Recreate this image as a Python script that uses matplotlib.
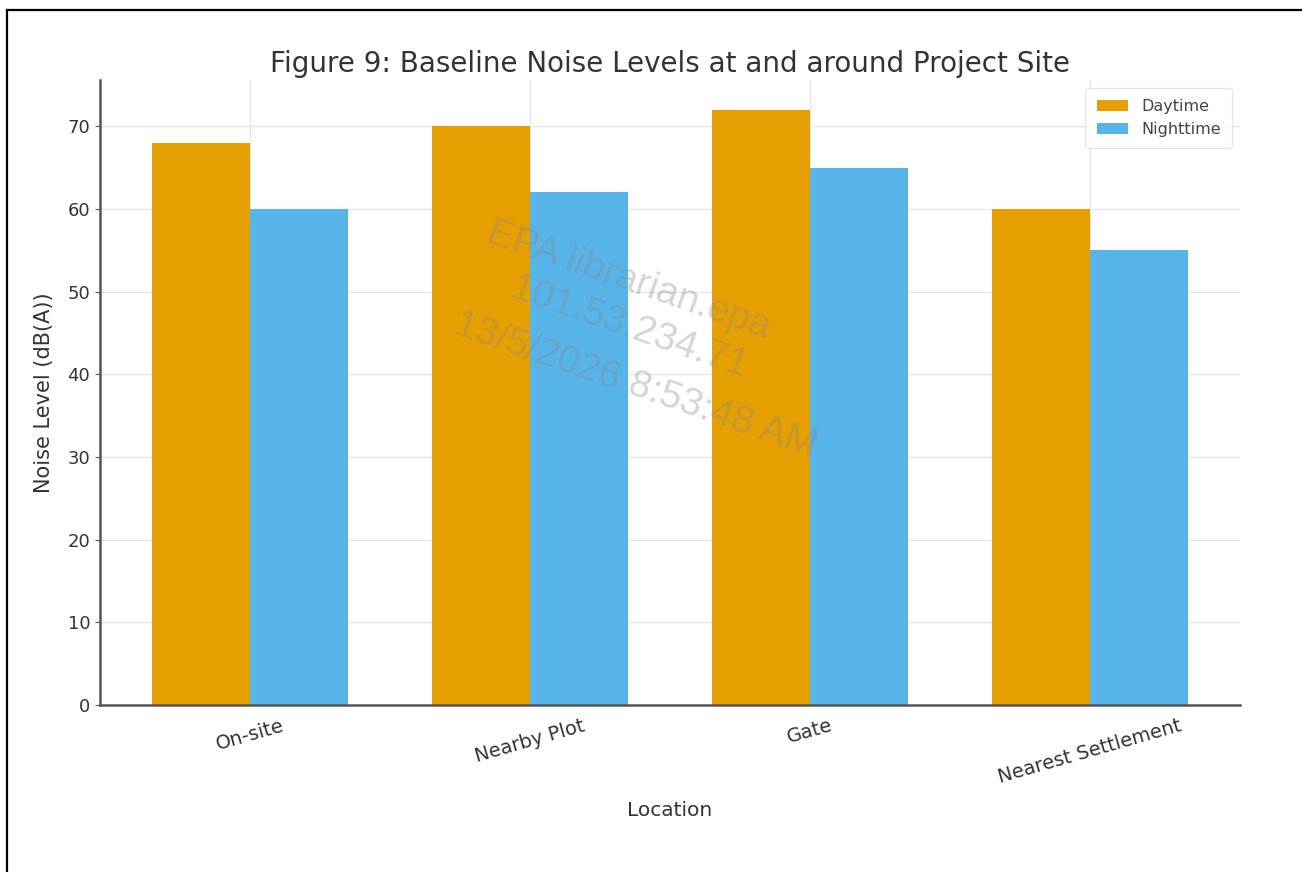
import matplotlib
matplotlib.use("Agg")
import matplotlib.pyplot as plt
import numpy as np
from matplotlib.lines import Line2D

locations = ["On-site", "Nearby Plot", "Gate", "Nearest Settlement"]
daytime = [68, 70, 72, 60]
nighttime = [60, 62, 65, 55]
series_names = ["Daytime", "Nighttime"]
colors = ["#E69F00", "#56B4E9"]

plt.rcParams['font.family'] = ['DejaVu Sans']

fig = plt.figure(figsize=(13.02, 8.72), dpi=100)
ax = fig.add_axes([0.0768, 0.1915, 0.8756, 0.7168])

x = np.arange(len(locations))
w = 0.35
ax.bar(x - w / 2, daytime, w, color=colors[0], label=series_names[0], zorder=2)
ax.bar(x + w / 2, nighttime, w, color=colors[1], label=series_names[1], zorder=2)

ax.set_xticks(x)
ax.set_xticklabels(locations, rotation=16, fontsize=14, color="#333333")
ax.tick_params(axis='y', labelsize=13, labelcolor="#333333", color="#555555")
ax.tick_params(axis='x', length=0, pad=8)
ax.set_yticks(range(0, 80, 10))

ax.set_xlabel("Location", fontsize=14.5, color="#333333", labelpad=10)
ax.set_ylabel("Noise Level (dB(A))", fontsize=15, color="#333333", labelpad=10)
ax.set_title("Figure 9: Baseline Noise Levels at and around Project Site",
             fontsize=20, color="#333333", pad=6)

ax.grid(True, color="#e6e6e6", linewidth=1, zorder=0)
ax.set_axisbelow(True)
for s in ["top", "right"]:
    ax.spines[s].set_visible(False)
for s in ["left", "bottom"]:
    ax.spines[s].set_color("#555555")
    ax.spines[s].set_linewidth(1.8)

leg = ax.legend(loc="upper right", fontsize=11.5, frameon=True, borderpad=0.7,
                handlelength=2.0)
leg.get_frame().set_edgecolor("#e0e0e0")
for t in leg.get_texts():
    t.set_color("#444444")

# watermark text
wm_lines = ["EPA librarian.epa", "101.53.234.71", "13/5/2026 8:53:48 AM"]
wm_pos = [(0.483, 0.679), (0.483, 0.624), (0.488, 0.558)]
for txt, (px, py) in zip(wm_lines, wm_pos):
    fig.text(px, py, txt, fontsize=28, color="#888888", alpha=0.35,
             rotation=-19, ha="center", va="center",
             family=["Liberation Sans", "DejaVu Sans"])

# figure border (left and top)
fig.add_artist(Line2D([7 / 1302, 7 / 1302], [0, 1 - 10 / 872],
                      transform=fig.transFigure, color="black", linewidth=1.6))
fig.add_artist(Line2D([7 / 1302, 1], [1 - 10 / 872, 1 - 10 / 872],
                      transform=fig.transFigure, color="black", linewidth=1.6))

fig.savefig("out.png", dpi=100)
